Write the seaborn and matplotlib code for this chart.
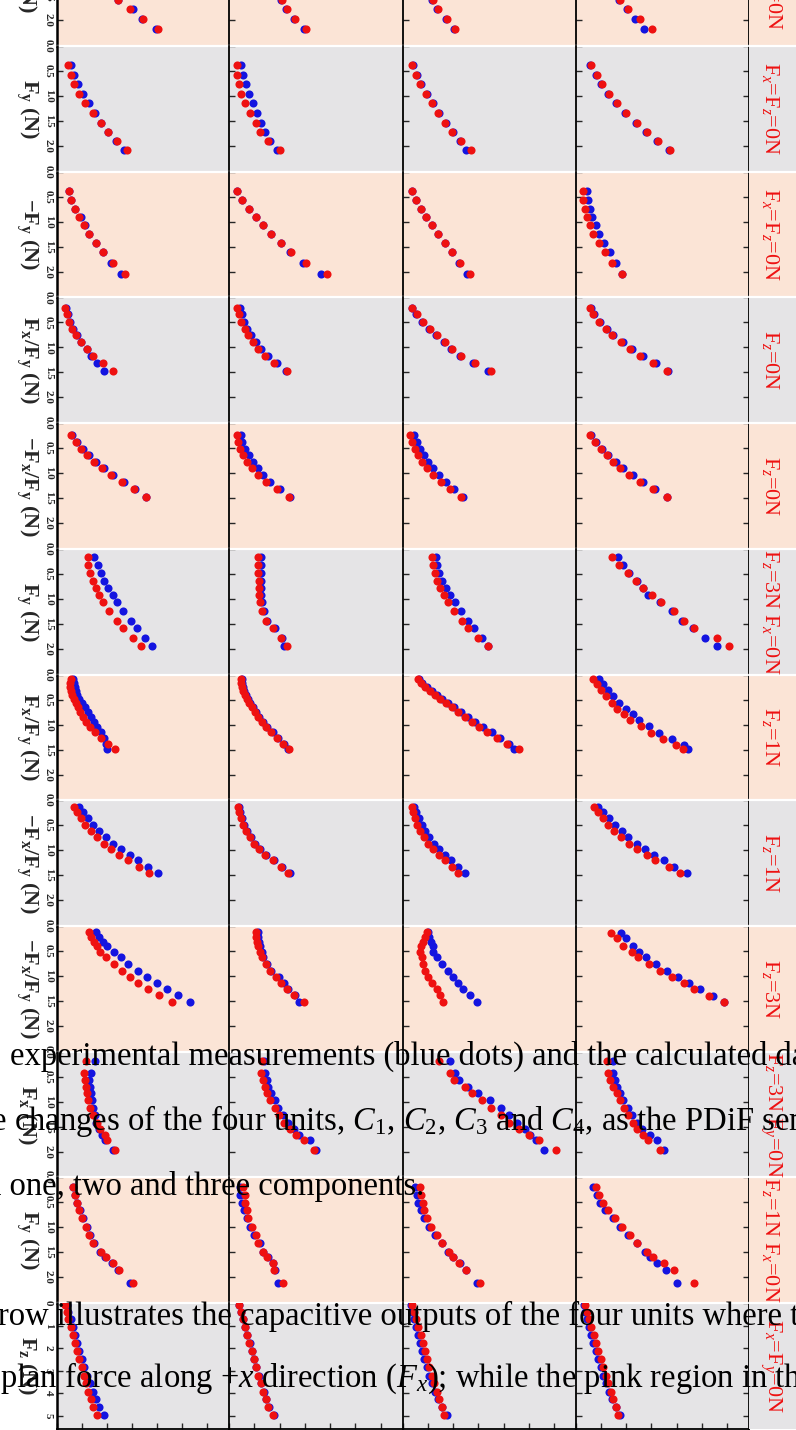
import numpy as np
import pandas as pd
import matplotlib
matplotlib.use("Agg")
import matplotlib.pyplot as plt
import seaborn as sns

sns.set_style("white")
plt.rcParams['font.family'] = ['Liberation Serif', 'DejaVu Serif']
plt.rcParams['mathtext.fontset'] = 'custom'
plt.rcParams['mathtext.rm'] = 'Liberation Serif'
plt.rcParams['mathtext.it'] = 'Liberation Serif:italic'
plt.rcParams['mathtext.bf'] = 'Liberation Serif:bold'

# ---- data: force (N) vs capacitance change (arb. units) for units C1..C4 ----
force_r0 = [1.59, 1.77, 1.97, 2.17]
blue_r0 = [[61, 76, 85, 99], [51, 56, 64, 74], [29, 34, 43, 51], [43, 51, 59, 68]]
red_r0 = [[61, 73, 86, 101], [52, 57, 65, 76], [30, 35, 44, 52], [44, 52, 64, 76]]

force_r1 = [0.38, 0.57, 0.76, 0.95, 1.14, 1.34, 1.54, 1.72, 1.90, 2.07]
blue_r1 = [[14, 17, 21, 26, 32, 38, 44, 51, 59, 67], [12, 14, 17, 20, 24, 28, 32, 36, 41, 47],
           [10, 14, 18, 24, 30, 36, 43, 50, 57, 63], [14, 20, 25, 32, 40, 49, 60, 70, 81, 92]]
red_r1 = [[11, 14, 17, 22, 28, 36, 44, 51, 60, 70], [8, 8, 10, 12, 16, 21, 27, 31, 39, 50],
          [9, 13, 17, 23, 29, 35, 42, 49, 58, 68], [15, 21, 26, 33, 41, 50, 61, 71, 82, 93]]

force_r2 = [0.38, 0.57, 0.74, 0.91, 1.07, 1.24, 1.43, 1.61, 1.82, 2.04]
blue_r2 = [[12, 14, 18, 24, 28, 32, 39, 46, 54, 64], [8, 13, 20, 27, 34, 42, 51, 60, 73, 91],
           [9, 13, 18, 23, 29, 35, 42, 49, 56, 64], [11, 12, 14, 16, 20, 23, 28, 34, 40, 46]]
red_r2 = [[12, 14, 18, 22, 27, 32, 39, 46, 56, 68], [8, 13, 20, 27, 34, 42, 51, 61, 76, 97],
          [9, 13, 18, 23, 29, 35, 42, 49, 57, 67], [7, 7, 9, 11, 14, 17, 23, 29, 36, 46]]

force_r3 = [0.22, 0.34, 0.49, 0.63, 0.75, 0.90, 1.03, 1.17, 1.32, 1.47]
blue_r3 = [[9, 11, 13, 16, 20, 24, 30, 34, 40, 47], [11, 13, 15, 18, 22, 27, 32, 39, 47, 56],
           [9, 13, 19, 26, 33, 41, 48, 57, 70, 85], [15, 18, 24, 31, 37, 47, 56, 67, 80, 91]]
red_r3 = [[8, 10, 12, 15, 19, 24, 30, 36, 46, 56], [8, 10, 12, 16, 19, 24, 29, 36, 44, 57],
          [9, 14, 20, 27, 34, 42, 49, 58, 72, 87], [14, 17, 23, 30, 36, 45, 54, 64, 77, 90]]

force_r4 = [0.24, 0.38, 0.52, 0.64, 0.78, 0.90, 1.04, 1.18, 1.32, 1.48]
blue_r4 = [[15, 20, 26, 32, 39, 47, 56, 67, 78, 89], [12, 13, 16, 20, 24, 29, 34, 41, 50, 60],
           [11, 14, 17, 21, 25, 30, 36, 43, 51, 60], [15, 20, 26, 32, 40, 47, 57, 67, 79, 90]]
red_r4 = [[14, 19, 24, 30, 37, 45, 54, 65, 77, 89], [8, 9, 11, 14, 18, 23, 29, 37, 47, 59],
          [7, 9, 12, 15, 19, 24, 30, 38, 47, 58], [14, 19, 25, 31, 37, 44, 53, 64, 77, 90]]

force_r5 = [0.16, 0.32, 0.49, 0.64, 0.78, 0.92, 1.06, 1.24, 1.44, 1.58, 1.78, 1.94]
blue_r5 = [[37, 41, 44, 47, 51, 56, 60, 66, 74, 80, 88, 95], [32, 32, 32, 32, 32, 32, 33, 35, 38, 45, 52, 54],
           [33, 34, 36, 39, 43, 47, 52, 58, 65, 71, 79, 85], [42, 47, 53, 61, 67, 72, 84, 95, 105, 116, 128, 140]]
red_r5 = [[31, 31, 33, 36, 39, 42, 46, 52, 60, 66, 76, 84], [29, 29, 29, 30, 30, 30, 31, 33, 37, 43, 51, 57],
          [29, 30, 32, 34, 37, 41, 45, 51, 59, 65, 75, 85], [36, 43, 52, 60, 67, 76, 85, 97, 107, 117, 140, 152]]

force_r6 = [[0.08, 0.16, 0.24, 0.32, 0.40, 0.48, 0.56, 0.64, 0.74, 0.84, 0.94, 1.04, 1.14, 1.26, 1.38, 1.48],
            [0.08, 0.16, 0.24, 0.32, 0.40, 0.48, 0.56, 0.64, 0.74, 0.84, 0.94, 1.04, 1.14, 1.26, 1.38, 1.48],
            [0.08, 0.16, 0.24, 0.32, 0.40, 0.48, 0.56, 0.64, 0.74, 0.84, 0.94, 1.04, 1.14, 1.26, 1.38, 1.48],
            [0.08, 0.18, 0.31, 0.43, 0.56, 0.69, 0.79, 0.91, 1.03, 1.16, 1.28, 1.41, 1.49]]
blue_r6 = [[16, 17, 18, 19, 20, 22, 25, 28, 31, 34, 37, 40, 44, 47, 49, 50],
           [13, 13, 14, 15, 17, 19, 21, 24, 27, 30, 34, 38, 43, 48, 54, 58],
           [16, 19, 24, 29, 34, 39, 45, 51, 58, 65, 72, 80, 88, 96, 105, 110],
           [23, 27, 32, 37, 43, 50, 57, 63, 73, 83, 95, 107, 111]]
red_r6 = [[14, 13, 13, 14, 15, 17, 19, 21, 23, 26, 29, 33, 38, 44, 51, 58],
          [12, 12, 13, 14, 16, 18, 20, 23, 26, 29, 33, 37, 42, 47, 53, 59],
          [15, 18, 22, 27, 32, 37, 43, 49, 55, 62, 69, 76, 84, 93, 103, 115],
          [17, 21, 25, 30, 36, 41, 48, 54, 65, 75, 86, 99, 106]]

force_r7 = [0.13, 0.24, 0.36, 0.50, 0.61, 0.73, 0.88, 0.98, 1.10, 1.20, 1.33, 1.46]
blue_r7 = [[22, 26, 31, 36, 42, 49, 56, 64, 73, 81, 91, 101], [10, 11, 13, 15, 18, 22, 26, 31, 37, 44, 52, 60],
           [11, 13, 16, 19, 22, 26, 31, 36, 42, 48, 55, 62], [22, 27, 33, 39, 46, 52, 61, 69, 78, 87, 97, 110]]
red_r7 = [[17, 20, 24, 28, 34, 40, 47, 54, 62, 71, 82, 92], [9, 10, 12, 14, 17, 21, 25, 30, 36, 43, 51, 58],
          [9, 10, 12, 14, 17, 21, 25, 30, 36, 42, 49, 55], [18, 22, 27, 32, 38, 45, 53, 61, 71, 79, 92, 103]]

force_r8 = [[0.12, 0.22, 0.32, 0.40, 0.52, 0.63, 0.76, 0.90, 1.03, 1.15, 1.26, 1.38, 1.52],
            [0.12, 0.22, 0.32, 0.40, 0.52, 0.63, 0.76, 0.90, 1.03, 1.15, 1.26, 1.38, 1.52],
            [0.12, 0.22, 0.32, 0.40, 0.52, 0.63, 0.76, 0.90, 1.03, 1.15, 1.26, 1.38, 1.52],
            [0.14, 0.25, 0.40, 0.53, 0.63, 0.76, 0.90, 1.03, 1.15, 1.26, 1.40, 1.52]]
blue_r8 = [[39, 42, 46, 50, 57, 64, 71, 81, 90, 100, 110, 121, 133],
           [29, 29, 30, 31, 33, 34, 38, 42, 49, 54, 58, 65, 69],
           [25, 26, 28, 30, 30, 34, 39, 45, 50, 55, 60, 67, 74],
           [45, 50, 57, 63, 70, 80, 90, 101, 112, 123, 136, 147]]
red_r8 = [[32, 34, 37, 40, 43, 49, 57, 65, 73, 81, 91, 102, 115],
          [27, 27, 28, 29, 31, 33, 37, 41, 46, 51, 57, 64, 74],
          [24, 22, 20, 18, 17, 19, 20, 22, 25, 29, 34, 37, 40],
          [35, 41, 47, 56, 62, 73, 84, 95, 107, 117, 132, 147]]

force_r9 = [0.18, 0.43, 0.57, 0.70, 0.83, 0.97, 1.13, 1.27, 1.42, 1.55, 1.67, 1.77, 1.97]
blue_r9 = [[38, 34, 32, 33, 34, 35, 36, 38, 39, 42, 45, 48, 56], [35, 36, 38, 39, 42, 45, 48, 53, 58, 64, 69, 80, 86],
           [47, 52, 56, 65, 75, 86, 97, 105, 113, 121, 126, 132, 140], [37, 37, 39, 41, 44, 47, 52, 56, 61, 66, 74, 81, 87]]
red_r9 = [[29, 27, 28, 29, 30, 31, 33, 36, 40, 43, 48, 50, 58], [33, 32, 34, 36, 38, 41, 45, 49, 54, 60, 66, 74, 84],
          [36, 47, 51, 62, 69, 79, 87, 97, 105, 115, 125, 135, 152], [31, 32, 34, 37, 41, 44, 48, 52, 57, 61, 67, 72, 84]]

force_r10 = [0.19, 0.35, 0.52, 0.65, 0.82, 0.99, 1.15, 1.32, 1.49, 1.59, 1.72, 1.85, 2.12]
blue_r10 = [[16, 18, 20, 23, 26, 30, 33, 37, 43, 48, 55, 61, 73], [11, 11, 13, 15, 18, 21, 25, 31, 34, 39, 43, 45, 48],
            [12, 14, 15, 18, 21, 26, 32, 39, 45, 50, 57, 63, 74], [17, 21, 24, 29, 37, 44, 52, 61, 69, 74, 81, 89, 100]]
red_r10 = [[16, 18, 20, 22, 25, 29, 32, 36, 44, 49, 56, 62, 76], [14, 16, 16, 18, 19, 23, 27, 29, 34, 38, 43, 44, 53],
           [17, 18, 20, 21, 24, 28, 34, 39, 46, 50, 56, 63, 77], [20, 23, 27, 32, 39, 46, 54, 61, 71, 77, 87, 97, 117]]

force_r11 = [0.09, 0.39, 0.72, 1.08, 1.43, 1.78, 2.12, 2.49, 2.86, 3.23, 3.56, 3.95, 4.27, 4.64, 4.97]
blue_r11 = [[10, 11, 14, 16, 18, 20, 22, 25, 27, 30, 33, 36, 39, 42, 47],
            [10, 12, 14, 16, 18, 21, 23, 25, 27, 30, 32, 35, 37, 40, 44],
            [8, 9, 11, 13, 15, 17, 19, 21, 24, 26, 29, 32, 35, 39, 44],
            [8, 9, 11, 13, 15, 17, 20, 22, 25, 27, 30, 33, 36, 40, 44]]
red_r11 = [[8, 10, 11, 14, 16, 18, 20, 22, 25, 27, 29, 31, 34, 36, 40],
           [10, 12, 14, 16, 18, 20, 23, 25, 27, 29, 32, 34, 37, 39, 43],
           [9, 11, 13, 15, 18, 20, 22, 24, 26, 29, 31, 34, 36, 39, 41],
           [9, 11, 13, 15, 18, 20, 22, 25, 27, 30, 32, 35, 37, 40, 42]]

forces = [force_r0, force_r1, force_r2, force_r3, force_r4, force_r5,
          force_r6, force_r7, force_r8, force_r9, force_r10, force_r11]
blues = [blue_r0, blue_r1, blue_r2, blue_r3, blue_r4, blue_r5,
         blue_r6, blue_r7, blue_r8, blue_r9, blue_r10, blue_r11]
reds = [red_r0, red_r1, red_r2, red_r3, red_r4, red_r5,
        red_r6, red_r7, red_r8, red_r9, red_r10, red_r11]

left_labels = [r"$\mathbf{F_x}$ (N)", r"$\mathbf{F_y}$ (N)", r"$\mathbf{-F_y}$ (N)",
               r"$\mathbf{F_x/F_y}$ (N)", r"$\mathbf{-F_x/F_y}$ (N)", r"$\mathbf{F_y}$ (N)",
               r"$\mathbf{F_x/F_y}$ (N)", r"$\mathbf{-F_x/F_y}$ (N)", r"$\mathbf{-F_x/F_y}$ (N)",
               r"$\mathbf{F_x}$ (N)", r"$\mathbf{F_y}$ (N)", r"$\mathbf{F_z}$ (N)"]
right_labels = [r"F$_y$=F$_z$=0N", r"F$_x$=F$_z$=0N", r"F$_x$=F$_z$=0N", r"F$_z$=0N", r"F$_z$=0N",
                r"F$_z$=3N F$_x$=0N", r"F$_z$=1N", r"F$_z$=1N", r"F$_z$=3N",
                r"F$_z$=3N F$_y$=0N", r"F$_z$=1N F$_x$=0N", r"F$_x$=F$_y$=0N"]
force_ticks = [0.0, 0.5, 1.0, 1.5, 2.0]
force_tick_labels = ['0.0', '0.5', '1.0', '1.5', '2.0']
fz_ticks = [0, 1, 2, 3, 4, 5]
fz_tick_labels = ['0', '1', '2', '3', '4', '5']

page_lines = [
    "experimental measurements (blue dots) and the calculated data",
    r"the changes of the four units, $C_1$, $C_2$, $C_3$ and $C_4$, as the PDiF sensor",
    "in one, two and three components.",
    "row illustrates the capacitive outputs of the four units where the",
    r"plan force along +$x$ direction ($F_x$); while the pink region in the",
]

# ---- layout (pixel geometry of the page) ----
W, H = 796, 1430
COL_X = [57, 229, 403, 576, 749]
FIRST_TOP = 46
ROW_H = 125.7
PINK = '#FBE4D6'
GREY = '#E5E4E6'
RED = '#EE1111'
BLUE = '#1414E0'


def box(x0, x1, top, bottom):
    return [x0 / W, 1 - bottom / H, (x1 - x0) / W, (bottom - top) / H]


fig = plt.figure(figsize=(W / 100, H / 100), dpi=100)

for r in range(12):
    top = FIRST_TOP + (r - 1) * ROW_H
    bg = PINK if r % 2 == 0 else GREY
    last = r == 11
    ymax = ROW_H / 22.5 if last else ROW_H / 50.0
    for c in range(4):
        ax = fig.add_axes(box(COL_X[c], COL_X[c + 1], top, top + ROW_H))
        ax.set_facecolor(bg)
        f = forces[r][c] if isinstance(forces[r][0], list) else forces[r]
        df = pd.DataFrame({'dC': blues[r][c], 'F': f})
        sns.scatterplot(data=df, x='dC', y='F', ax=ax, color=BLUE, s=34,
                        linewidth=0, zorder=3)
        df = pd.DataFrame({'dC': reds[r][c], 'F': f})
        sns.scatterplot(data=df, x='dC', y='F', ax=ax, color=RED, s=34,
                        linewidth=0, zorder=4)
        ax.set_xlim(0, 172)
        ax.set_ylim(ymax, 0)
        ax.set_xlabel('')
        ax.set_ylabel('')
        ax.axhline(0, color='white', lw=1.6, zorder=1, clip_on=False)
        for side in ['top', 'bottom', 'right', 'left']:
            ax.spines[side].set_visible(False)
        ax.spines['left'].set_visible(True)
        ax.spines['left'].set_linewidth(1.8 if c == 0 else 1.3)
        ax.spines['left'].set_color('black')
        if c == 3:
            ax.spines['right'].set_visible(True)
            ax.spines['right'].set_linewidth(1.3)
            ax.spines['right'].set_color('black')
        if last:
            ax.set_yticks(fz_ticks)
            ax.set_yticklabels(fz_tick_labels)
            ax.spines['bottom'].set_visible(True)
            ax.spines['bottom'].set_linewidth(1.3)
            ax.spines['bottom'].set_color('black')
            ax.set_xticks(np.arange(0, 172, 25))
            ax.tick_params(axis='x', direction='in', length=4, width=1, bottom=True,
                           labelbottom=False)
        else:
            ax.set_yticks(force_ticks)
            ax.set_yticklabels(force_tick_labels)
            ax.set_xticks([])
        ax.tick_params(axis='y', direction='in', length=4, width=1, left=True,
                       right=(c == 3), labelleft=(c == 0), labelright=False,
                       labelrotation=-90, labelsize=8, pad=3)
        for lab in ax.get_yticklabels():
            lab.set_fontweight('bold')
            lab.set_va('center')

    lab_ax = fig.add_axes(box(COL_X[4], W, top, top + ROW_H))
    lab_ax.set_facecolor(bg)
    lab_ax.set_xticks([])
    lab_ax.set_yticks([])
    for s in lab_ax.spines.values():
        s.set_visible(False)
    lab_ax.axhline(1, color='white', lw=1.6, zorder=1, clip_on=False)

    yc = 1 - (top + ROW_H / 2) / H
    fig.text(27 / W, yc, left_labels[r], rotation=-90, ha='center', va='center',
             fontsize=16, fontweight='bold')
    fig.text(771 / W, yc, right_labels[r], rotation=-90, ha='center', va='center',
             fontsize=16, color=RED)

# page text that overlaps the rotated figure
line_x = [10, -34, -24, -2, 0]
line_base = [1065, 1130, 1195, 1325, 1387]
for s, x, yb in zip(page_lines, line_x, line_base):
    fig.text(x / W, 1 - yb / H, s, ha='left', va='baseline', fontsize=23.5, color='black')

fig.savefig('out.png', dpi=100)
